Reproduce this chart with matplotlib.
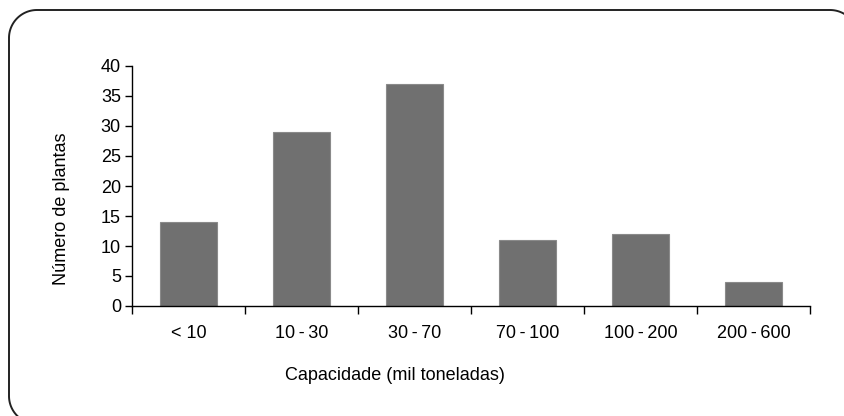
import matplotlib
matplotlib.use("Agg")
import numpy as np
import matplotlib.pyplot as plt
from matplotlib.path import Path
from matplotlib.patches import PathPatch

plt.rcParams['font.family'] = ['Liberation Sans', 'DejaVu Sans']

categories = ["< 10", "10\u2009-\u200930", "30\u2009-\u200970", "70\u2009-\u2009100", "100\u2009-\u2009200", "200\u2009-\u2009600"]
values = [14, 29, 37, 11, 12, 4]
yticks = [0, 5, 10, 15, 20, 25, 30, 35, 40]

W, H = 844, 416
fig = plt.figure(figsize=(W/100, H/100), dpi=100)

# overlay in pixel coordinates for the rounded frame
bg = fig.add_axes([0, 0, 1, 1], zorder=-1)
bg.set_xlim(0, W)
bg.set_ylim(H, 0)
bg.axis('off')

L, T, R, B, r = 9, 10, 858, 424, 28
def arc(cx, cy, a0, a1, n=30):
    t = np.radians(np.linspace(a0, a1, n))
    return np.column_stack([cx + r*np.cos(t), cy + r*np.sin(t)])
pts = np.vstack([
    arc(L + r, B - r, 90, 180),      # bottom-left
    arc(L + r, T + r, 180, 270),     # top-left
    arc(R - r, T + r, 270, 360),     # top-right
    arc(R - r, B - r, 0, 90),        # bottom-right
])
pts = np.vstack([pts, pts[:1]])
bg.add_patch(PathPatch(Path(pts), fill=False, edgecolor="#222222", linewidth=1.4))

ax = fig.add_axes([132/W, 1-306/H, (810-132)/W, (306-66)/H])
x = list(range(len(categories)))
ax.bar(x, values, width=0.5, color="#707070", edgecolor="#8a8a8a", linewidth=0.8)
ax.set_xlim(-0.5, len(categories)-0.5)
ax.set_ylim(0, 40)
ax.set_yticks(yticks)
ax.set_xticks([i - 0.5 for i in range(len(categories)+1)], minor=False)
ax.set_xticklabels([])
ax.set_xticks(x, minor=True)
ax.set_xticklabels(categories, minor=True, fontsize=13)
ax.tick_params(axis='x', which='minor', length=0, pad=14)
ax.tick_params(axis='x', which='major', length=6, direction='out', width=1)
ax.tick_params(axis='y', length=5, direction='out', width=1, labelsize=13, pad=3)
for s in ['top', 'right']:
    ax.spines[s].set_visible(False)
ax.spines['left'].set_linewidth(1)
ax.spines['bottom'].set_linewidth(1)
ax.patch.set_alpha(0)

fig.text(395/W, 1-376/H, "Capacidade (mil toneladas)", ha='center', va='center', fontsize=13)
fig.text(62/W, 1-209/H, "Número de plantas", ha='center', va='center', rotation=90, fontsize=13)

fig.savefig("out.png", dpi=100)
